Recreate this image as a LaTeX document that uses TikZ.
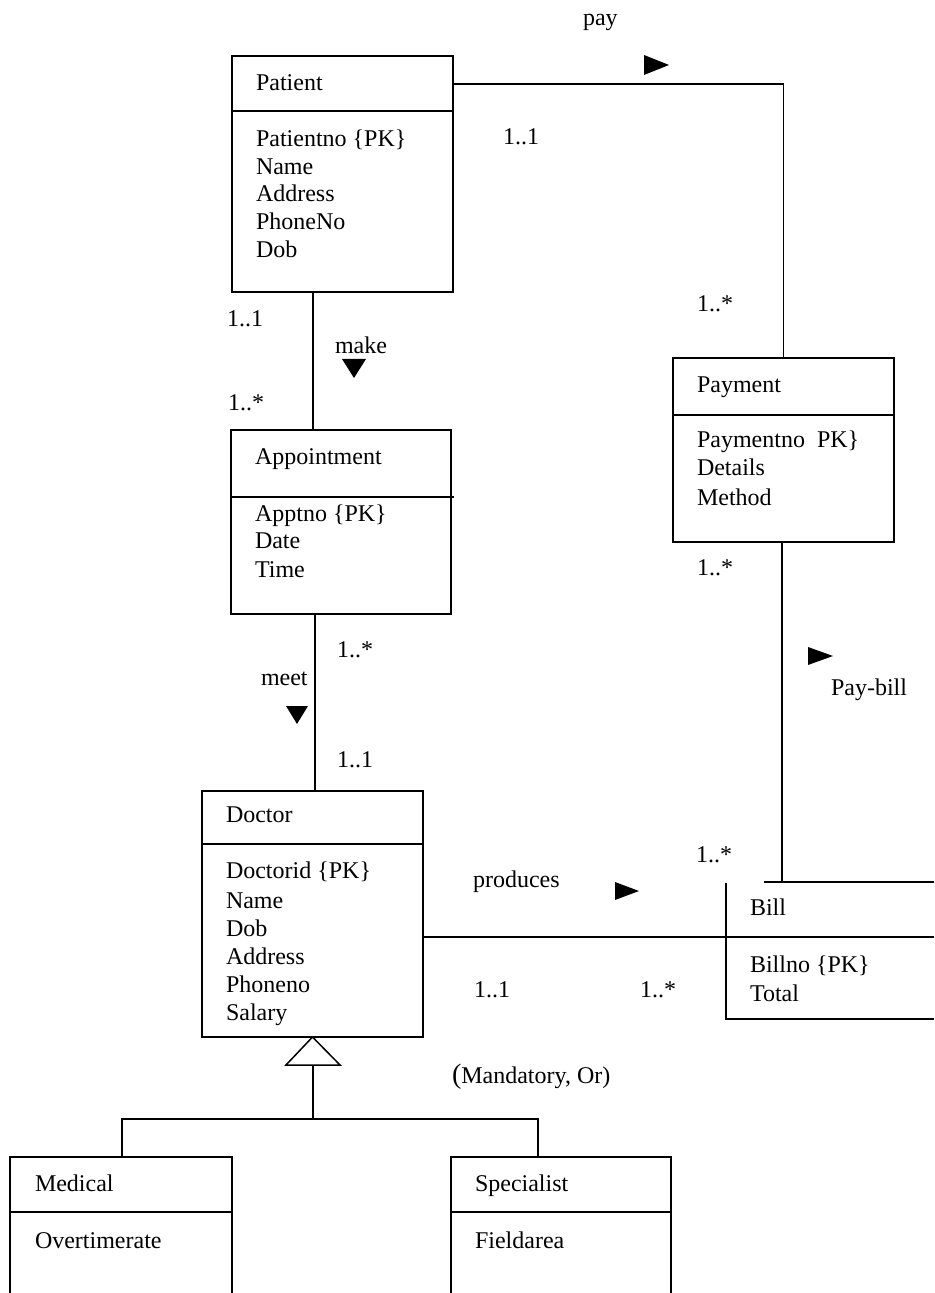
\documentclass[tikz,border=0pt]{standalone}
\usepackage{fontspec}
\setmainfont{Liberation Serif}
\usetikzlibrary{fit}
\begin{document}
\begin{tikzpicture}[x=0.5pt,y=-0.5pt,line width=0.75pt,
  cls/.style={inner sep=0pt,outer sep=0pt},
  txt/.style={anchor=base west,inner sep=0pt,outer sep=0pt,font=\fontsize{12}{14}\selectfont},
  tri/.style={fill=black,draw=none},
  gen/.style={fill=white,draw=black}]
\useasboundingbox (0,0) rectangle (934,1293);

% ---------- class boxes ----------
\node[cls,draw,fit={(232,56) (453,292)}] (patient) {};
\draw (patient.west |- 0,111) -- (patient.east |- 0,111);
\node[cls,draw,fit={(231,430) (451,614)}] (appt) {};
\draw (appt.west |- 0,497) -- (454,497);
\node[cls,draw,fit={(673,358) (894,542)}] (payment) {};
\draw (payment.west |- 0,415) -- (payment.east |- 0,415);
\node[cls,draw,fit={(202,791) (423,1037)}] (doctor) {};
\draw (doctor.west |- 0,844) -- (doctor.east |- 0,844);
\node[cls,fit={(726,882) (934,1019)}] (bill) {};
\draw (764,882) -- (bill.north east);
\draw (726,883) -- (bill.south west) -- (bill.south east);
\node[cls,fit={(10,1157) (232,1293)}] (medical) {};
\draw (medical.south west) -- (medical.north west) -- (medical.north east) -- (medical.south east);
\draw (medical.west |- 0,1212) -- (medical.east |- 0,1212);
\node[cls,fit={(451,1157) (671,1293)}] (specialist) {};
\draw (specialist.south west) -- (specialist.north west) -- (specialist.north east) -- (specialist.south east);
\draw (specialist.west |- 0,1212) -- (specialist.east |- 0,1212);

% ---------- class texts ----------
\node[txt] (tpat) at (256,91) {Patient};
\node[txt] (tpat1) at (256,147) {Patientno \{PK\}};
\node[txt] (tpat2) at (256,175) {Name};
\node[txt] (tpat3) at (256,202) {Address};
\node[txt] (tpat4) at (256,230) {PhoneNo};
\node[txt] (tpat5) at (256,258) {Dob};

\node[txt] (tapp) at (255,465) {Appointment};
\node[txt] (tapp1) at (255,521) {Apptno \{PK\}};
\node[txt] (tapp2) at (255,548) {Date};
\node[txt] (tapp3) at (255,577) {Time};

\node[txt] (tpay) at (697,393) {Payment};
\node[txt] (tpay1) at (697,448) {Paymentno\ \ PK\}};
\node[txt] (tpay2) at (697,476) {Details};
\node[txt] (tpay3) at (697,505) {Method};

\node[txt] (tdoc) at (226,822) {Doctor};
\node[txt] (tdoc1) at (226,878) {Doctorid \{PK\}};
\node[txt] (tdoc2) at (226,908) {Name};
\node[txt] (tdoc3) at (226,936) {Dob};
\node[txt] (tdoc4) at (226,964) {Address};
\node[txt] (tdoc5) at (226,992) {Phoneno};
\node[txt] (tdoc6) at (226,1020) {Salary};

\node[txt] (tbill) at (750,915) {Bill};
\node[txt] (tbill1) at (750,972) {Billno \{PK\}};
\node[txt] (tbill2) at (750,1001) {Total};

\node[txt] (tmed) at (35,1191) {Medical};
\node[txt] (tmed1) at (35,1248) {Overtimerate};
\node[txt] (tspe) at (475,1191) {Specialist};
\node[txt] (tspe1) at (475,1248) {Fieldarea};

% ---------- connectors ----------
\coordinate (payturn) at (783.5,84);
\draw (patient.east |- payturn) -- (payturn) -- (payment.north);
\coordinate (mkx) at (313,0);
\draw (patient.south -| mkx) -- (appt.north -| mkx);
\coordinate (mtx) at (315,0);
\draw (appt.south -| mtx) -- (doctor.north -| mtx);
\coordinate (pbx) at (782,0);
\draw (payment.south -| pbx) -- (bill.north -| pbx);
\coordinate (pry) at (0,937);
\draw (doctor.east |- pry) -- (bill.east |- pry);

% generalization
\coordinate (gbase) at (313,1065);
\coordinate (gbar) at (313,1119);
\draw[gen] (doctor.south) -- (286,1065) -- (340,1065) -- cycle;
\draw (gbase) -- (gbar);
\draw (medical.north -| 122,0) |- (gbar) -| (specialist.north -| 538,0);

% ---------- direction triangles ----------
\fill[tri] (644,55) -- (644,75) -- (669,65) -- cycle;
\fill[tri] (342,359) -- (366,359) -- (354,378) -- cycle;
\fill[tri] (286,706) -- (308,706) -- (297,724) -- cycle;
\fill[tri] (808,647) -- (808,665) -- (833,656) -- cycle;
\fill[tri] (615,882) -- (615,900) -- (639,891) -- cycle;

% ---------- labels ----------
\node[txt] (lpay) at (583,26) {pay};
\node[txt] (lpay1) at (503,145) {1..1};
\node[txt] (lpay2) at (697,312) {1..*};
\node[txt] (lmk1) at (227,327) {1..1};
\node[txt] (lmake) at (335,354) {make};
\node[txt] (lmk2) at (228,411) {1..*};
\node[txt] (lpb1) at (697,575) {1..*};
\node[txt] (lpb) at (831,695) {Pay-bill};
\node[txt] (lmt1) at (337,657) {1..*};
\node[txt] (lmeet) at (261,685) {meet};
\node[txt] (lmt2) at (337,767) {1..1};
\node[txt] (lpb2) at (696,862) {1..*};
\node[txt] (lprod) at (473,887) {produces};
\node[txt] (lpr1) at (474,997) {1..1};
\node[txt] (lpr2) at (640,997) {1..*};
\node[txt] (lgen) at (452,1083) {{\fontsize{14}{14}\selectfont(}Mandatory, Or)};
\end{tikzpicture}
\end{document}
